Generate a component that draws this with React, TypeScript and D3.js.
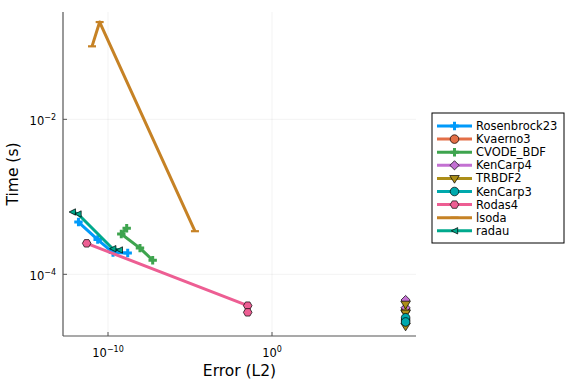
import React from "react";
import * as d3 from "d3";

const W = 576, H = 384;
const M = { left: 63, right: 416, top: 12, bottom: 336 };

const seriesNames = ["Rosenbrock23", "Kvaerno3", "CVODE_BDF", "KenCarp4", "TRBDF2", "KenCarp3", "Rodas4", "lsoda", "radau"];
const seriesColors = ["#009AFA", "#E36F47", "#3EA44E", "#C371D2", "#AC8E18", "#00A9AD", "#ED5E93", "#C68225", "#00A98D"];
const seriesMarkers = ["cross", "circle", "cross", "diamond", "dtriangle", "circle", "hexagon", "hline", "ltriangle"];

const rosenbrockErr = [1.58e-12, 2.35e-11, 2.02e-10, 1.59e-9];
const rosenbrockTime = [4.73e-4, 2.81e-4, 1.91e-4, 1.88e-4];
const kvaernoErr = [1.4e8, 1.4e8];
const kvaernoTime = [3.46e-5, 2.57e-5];
const cvodeErr = [1.38e-9, 6.46e-10, 8.9e-9, 5.3e-8];
const cvodeTime = [3.93e-4, 3.31e-4, 2.18e-4, 1.52e-4];
const kencarp4Err = [1.4e8, 1.4e8];
const kencarp4Time = [4.66e-5, 3.71e-5];
const trbdf2Err = [1.4e8, 1.4e8, 1.4e8];
const trbdf2Time = [4.13e-5, 3.17e-5, 2.15e-5];
const kencarp3Err = [1.4e8, 1.4e8];
const kencarp3Time = [2.75e-5, 2.43e-5];
const rodasErr = [5.0e-12, 0.033, 0.033];
const rodasTime = [2.51e-4, 3.94e-5, 3.23e-5];
const lsodaErr = [1.06e-11, 3.1e-11, 2.0e-5];
const lsodaTime = [0.0875, 0.18, 3.6e-4];
const radauErr = [6.65e-13, 1.48e-12, 1.94e-10, 4.89e-10];
const radauTime = [6.37e-4, 6.0e-4, 2.14e-4, 2.06e-4];

const seriesErr = [rosenbrockErr, kvaernoErr, cvodeErr, kencarp4Err, trbdf2Err, kencarp3Err, rodasErr, lsodaErr, radauErr];
const seriesTime = [rosenbrockTime, kvaernoTime, cvodeTime, kencarp4Time, trbdf2Time, kencarp3Time, rodasTime, lsodaTime, radauTime];

const xTicks = [1e-10, 1e0];
const xTickExp = ["−10", "0"];
const yTicks = [1e-4, 1e-2];
const yTickExp = ["−4", "−2"];

const xScale = d3.scaleLog().domain([Math.pow(10, -12.744), Math.pow(10, 8.78)]).range([M.left, M.right]);
const yScale = d3.scaleLog().domain([Math.pow(10, -4.796), Math.pow(10, -0.615)]).range([M.bottom, M.top]);

function Marker({ kind, x, y, color }: { kind: string; x: number; y: number; color: string }) {
  const s = "#000";
  if (kind === "circle") return <circle cx={x} cy={y} r={4.3} fill={color} stroke={s} strokeWidth={0.7} />;
  if (kind === "cross") {
    const a = 4.2, t = 1.5;
    const p = `M${x - t},${y - a}H${x + t}V${y - t}H${x + a}V${y + t}H${x + t}V${y + a}H${x - t}V${y + t}H${x - a}V${y - t}H${x - t}Z`;
    return <path d={p} fill={color} />;
  }
  if (kind === "diamond") {
    const a = 4.6;
    return <path d={`M${x},${y - a}L${x + a},${y}L${x},${y + a}L${x - a},${y}Z`} fill={color} stroke={s} strokeWidth={0.7} />;
  }
  if (kind === "dtriangle") {
    const a = 4.8;
    return <path d={`M${x - a},${y - a * 0.6}L${x + a},${y - a * 0.6}L${x},${y + a}Z`} fill={color} stroke={s} strokeWidth={0.7} />;
  }
  if (kind === "ltriangle") {
    const a = 3.2;
    return <path d={`M${x - a},${y}L${x + a},${y - a}L${x + a},${y + a}Z`} fill={color} stroke={s} strokeWidth={0.7} />;
  }
  if (kind === "hexagon") {
    const r = 4.3;
    const pts = d3.range(6).map((i) => {
      const ang = (Math.PI / 3) * i;
      return `${x + r * Math.cos(ang)},${y + r * Math.sin(ang)}`;
    });
    return <polygon points={pts.join(" ")} fill={color} stroke={s} strokeWidth={0.7} />;
  }
  if (kind === "hline") {
    return <line x1={x - 4} x2={x + 4} y1={y} y2={y} stroke={color} strokeWidth={2.2} />;
  }
  return null;
}

export default function App() {
  const line = d3.line<[number, number]>().x((d) => xScale(d[0])).y((d) => yScale(d[1]));
  const font = "DejaVu Sans, sans-serif";
  const legX = 432, legY = 113, legW = 132, legH = 130, rowH = 13.1;
  return (
    <svg width={W} height={H} style={{ position: "absolute", left: 0, top: 0, background: "#fff" }} fontFamily={font}>
      <defs>
        <clipPath id="plotclip">
          <rect x={M.left} y={M.top} width={M.right - M.left} height={M.bottom - M.top} />
        </clipPath>
      </defs>
      {xTicks.map((t, i) => (
        <line key={"gx" + i} x1={xScale(t)} x2={xScale(t)} y1={M.top} y2={M.bottom} stroke="#000" strokeOpacity={0.1} strokeWidth={0.5} />
      ))}
      {yTicks.map((t, i) => (
        <line key={"gy" + i} x1={M.left} x2={M.right} y1={yScale(t)} y2={yScale(t)} stroke="#000" strokeOpacity={0.1} strokeWidth={0.5} />
      ))}
      <line x1={M.left} x2={M.left} y1={M.top} y2={M.bottom} stroke="#555" strokeWidth={1.2} />
      <line x1={M.left} x2={M.right} y1={M.bottom} y2={M.bottom} stroke="#555" strokeWidth={1.2} />
      {xTicks.map((t, i) => (
        <g key={"xt" + i}>
          <line x1={xScale(t)} x2={xScale(t)} y1={M.bottom} y2={M.bottom - 4} stroke="#555" strokeWidth={1} />
          <text x={xScale(t)} y={357} fontSize={11.5} textAnchor="middle" fill="#000">
            10<tspan dy={-5} fontSize={8}>{xTickExp[i]}</tspan>
          </text>
        </g>
      ))}
      {yTicks.map((t, i) => (
        <g key={"yt" + i}>
          <line x1={M.left} x2={M.left + 4} y1={yScale(t)} y2={yScale(t)} stroke="#555" strokeWidth={1} />
          <text x={56} y={yScale(t) + 6} fontSize={11.5} textAnchor="end" fill="#000">
            10<tspan dy={-5} fontSize={8}>{yTickExp[i]}</tspan>
          </text>
        </g>
      ))}
      <text x={(M.left + M.right) / 2} y={376} fontSize={15.5} textAnchor="middle" fill="#000">Error (L2)</text>
      <text transform={`translate(17.5,${(M.top + M.bottom) / 2}) rotate(-90)`} fontSize={15.5} textAnchor="middle" fill="#000">Time (s)</text>
      <g clipPath="url(#plotclip)">
        {seriesNames.map((name, si) => {
          const pts: [number, number][] = seriesErr[si].map((e, j) => [e, seriesTime[si][j]]);
          return (
            <g key={name}>
              <path d={line(pts) || ""} fill="none" stroke={seriesColors[si]} strokeWidth={3} strokeLinejoin="round" />
              {pts.map((p, j) => (
                <Marker key={j} kind={seriesMarkers[si]} x={xScale(p[0])} y={yScale(p[1])} color={seriesColors[si]} />
              ))}
            </g>
          );
        })}
      </g>
      <rect x={legX} y={legY} width={legW} height={legH} fill="#fff" stroke="#000" strokeWidth={1} />
      {seriesNames.map((name, si) => {
        const cy = legY + 13 + si * rowH;
        return (
          <g key={"lg" + name}>
            <line x1={437} x2={472} y1={cy} y2={cy} stroke={seriesColors[si]} strokeWidth={3} />
            <Marker kind={seriesMarkers[si]} x={454.5} y={cy} color={seriesColors[si]} />
            <text x={476} y={cy + 4} fontSize={11.5} fill="#000">{name}</text>
          </g>
        );
      })}
    </svg>
  );
}
